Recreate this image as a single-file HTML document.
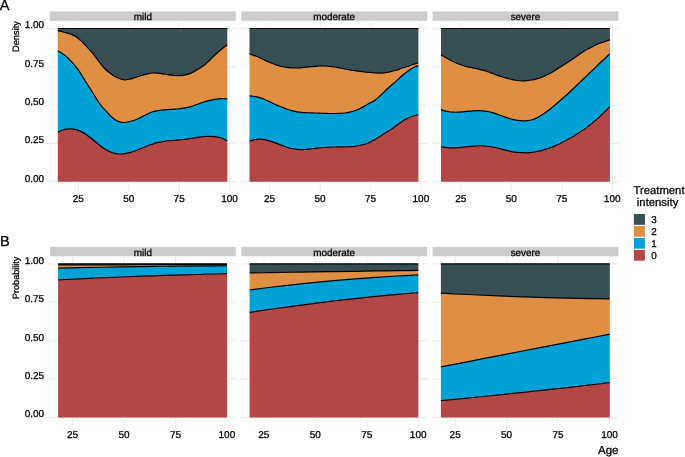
<!DOCTYPE html><html><head><meta charset="utf-8"><style>html,body{margin:0;padding:0;background:#fff;}svg{display:block;will-change:transform;}text{font-family:"Liberation Sans", sans-serif;fill:#000;stroke:#000;stroke-width:0.28px;text-rendering:geometricPrecision;}</style></head><body>
<svg width="685" height="457" viewBox="0 0 685 457">
<rect x="0" y="0" width="685" height="457" fill="#fff"/>
<rect x="50" y="11.4" width="185.8" height="9.35" fill="#CCCCCC"/>
<text x="142.9" y="20.25" font-size="9.9" text-anchor="middle">mild</text>
<line x1="47" y1="181.7" x2="235.8" y2="181.7" stroke="#EBEBEB" stroke-width="1"/>
<line x1="47" y1="143.4" x2="235.8" y2="143.4" stroke="#EBEBEB" stroke-width="1"/>
<line x1="47" y1="105.1" x2="235.8" y2="105.1" stroke="#EBEBEB" stroke-width="1"/>
<line x1="47" y1="66.8" x2="235.8" y2="66.8" stroke="#EBEBEB" stroke-width="1"/>
<line x1="47" y1="28.5" x2="235.8" y2="28.5" stroke="#EBEBEB" stroke-width="1"/>
<line x1="78.45" y1="20.75" x2="78.45" y2="192.3" stroke="#EBEBEB" stroke-width="1"/>
<text x="78.25" y="201.7" font-size="10" text-anchor="middle">25</text>
<line x1="128.9" y1="20.75" x2="128.9" y2="192.3" stroke="#EBEBEB" stroke-width="1"/>
<text x="128.7" y="201.7" font-size="10" text-anchor="middle">50</text>
<line x1="179.35" y1="20.75" x2="179.35" y2="192.3" stroke="#EBEBEB" stroke-width="1"/>
<text x="179.15" y="201.7" font-size="10" text-anchor="middle">75</text>
<line x1="229.8" y1="20.75" x2="229.8" y2="192.3" stroke="#EBEBEB" stroke-width="1"/>
<text x="229.6" y="201.7" font-size="10" text-anchor="middle">100</text>
<rect x="241.3" y="11.4" width="185.8" height="9.35" fill="#CCCCCC"/>
<text x="334.2" y="20.25" font-size="9.9" text-anchor="middle">moderate</text>
<line x1="241.3" y1="181.7" x2="427.1" y2="181.7" stroke="#EBEBEB" stroke-width="1"/>
<line x1="241.3" y1="143.4" x2="427.1" y2="143.4" stroke="#EBEBEB" stroke-width="1"/>
<line x1="241.3" y1="105.1" x2="427.1" y2="105.1" stroke="#EBEBEB" stroke-width="1"/>
<line x1="241.3" y1="66.8" x2="427.1" y2="66.8" stroke="#EBEBEB" stroke-width="1"/>
<line x1="241.3" y1="28.5" x2="427.1" y2="28.5" stroke="#EBEBEB" stroke-width="1"/>
<line x1="269.75" y1="20.75" x2="269.75" y2="192.3" stroke="#EBEBEB" stroke-width="1"/>
<text x="269.55" y="201.7" font-size="10" text-anchor="middle">25</text>
<line x1="320.2" y1="20.75" x2="320.2" y2="192.3" stroke="#EBEBEB" stroke-width="1"/>
<text x="320" y="201.7" font-size="10" text-anchor="middle">50</text>
<line x1="370.65" y1="20.75" x2="370.65" y2="192.3" stroke="#EBEBEB" stroke-width="1"/>
<text x="370.45" y="201.7" font-size="10" text-anchor="middle">75</text>
<line x1="421.1" y1="20.75" x2="421.1" y2="192.3" stroke="#EBEBEB" stroke-width="1"/>
<text x="420.9" y="201.7" font-size="10" text-anchor="middle">100</text>
<rect x="432.6" y="11.4" width="185.8" height="9.35" fill="#CCCCCC"/>
<text x="525.5" y="20.25" font-size="9.9" text-anchor="middle">severe</text>
<line x1="432.6" y1="181.7" x2="618.4" y2="181.7" stroke="#EBEBEB" stroke-width="1"/>
<line x1="432.6" y1="143.4" x2="618.4" y2="143.4" stroke="#EBEBEB" stroke-width="1"/>
<line x1="432.6" y1="105.1" x2="618.4" y2="105.1" stroke="#EBEBEB" stroke-width="1"/>
<line x1="432.6" y1="66.8" x2="618.4" y2="66.8" stroke="#EBEBEB" stroke-width="1"/>
<line x1="432.6" y1="28.5" x2="618.4" y2="28.5" stroke="#EBEBEB" stroke-width="1"/>
<line x1="461.05" y1="20.75" x2="461.05" y2="192.3" stroke="#EBEBEB" stroke-width="1"/>
<text x="460.85" y="201.7" font-size="10" text-anchor="middle">25</text>
<line x1="511.5" y1="20.75" x2="511.5" y2="192.3" stroke="#EBEBEB" stroke-width="1"/>
<text x="511.3" y="201.7" font-size="10" text-anchor="middle">50</text>
<line x1="561.95" y1="20.75" x2="561.95" y2="192.3" stroke="#EBEBEB" stroke-width="1"/>
<text x="561.75" y="201.7" font-size="10" text-anchor="middle">75</text>
<line x1="612.4" y1="20.75" x2="612.4" y2="192.3" stroke="#EBEBEB" stroke-width="1"/>
<text x="612.2" y="201.7" font-size="10" text-anchor="middle">100</text>
<text x="44.1" y="181.6" font-size="10" text-anchor="end">0.00</text>
<text x="44.1" y="143.3" font-size="10" text-anchor="end">0.25</text>
<text x="44.1" y="105" font-size="10" text-anchor="end">0.50</text>
<text x="44.1" y="66.7" font-size="10" text-anchor="end">0.75</text>
<text x="44.1" y="28.4" font-size="10" text-anchor="end">1.00</text>
<rect x="50" y="246.9" width="185.8" height="9.4" fill="#CCCCCC"/>
<text x="142.9" y="255.8" font-size="9.9" text-anchor="middle">mild</text>
<line x1="47" y1="417.4" x2="235.8" y2="417.4" stroke="#EBEBEB" stroke-width="1"/>
<line x1="47" y1="379.02" x2="235.8" y2="379.02" stroke="#EBEBEB" stroke-width="1"/>
<line x1="47" y1="340.65" x2="235.8" y2="340.65" stroke="#EBEBEB" stroke-width="1"/>
<line x1="47" y1="302.27" x2="235.8" y2="302.27" stroke="#EBEBEB" stroke-width="1"/>
<line x1="47" y1="263.9" x2="235.8" y2="263.9" stroke="#EBEBEB" stroke-width="1"/>
<line x1="72.75" y1="256.3" x2="72.75" y2="428" stroke="#EBEBEB" stroke-width="1"/>
<text x="72.55" y="438" font-size="10" text-anchor="middle">25</text>
<line x1="124.2" y1="256.3" x2="124.2" y2="428" stroke="#EBEBEB" stroke-width="1"/>
<text x="124" y="438" font-size="10" text-anchor="middle">50</text>
<line x1="175.65" y1="256.3" x2="175.65" y2="428" stroke="#EBEBEB" stroke-width="1"/>
<text x="175.45" y="438" font-size="10" text-anchor="middle">75</text>
<line x1="227.1" y1="256.3" x2="227.1" y2="428" stroke="#EBEBEB" stroke-width="1"/>
<text x="226.9" y="438" font-size="10" text-anchor="middle">100</text>
<rect x="241.3" y="246.9" width="185.8" height="9.4" fill="#CCCCCC"/>
<text x="334.2" y="255.8" font-size="9.9" text-anchor="middle">moderate</text>
<line x1="241.3" y1="417.4" x2="427.1" y2="417.4" stroke="#EBEBEB" stroke-width="1"/>
<line x1="241.3" y1="379.02" x2="427.1" y2="379.02" stroke="#EBEBEB" stroke-width="1"/>
<line x1="241.3" y1="340.65" x2="427.1" y2="340.65" stroke="#EBEBEB" stroke-width="1"/>
<line x1="241.3" y1="302.27" x2="427.1" y2="302.27" stroke="#EBEBEB" stroke-width="1"/>
<line x1="241.3" y1="263.9" x2="427.1" y2="263.9" stroke="#EBEBEB" stroke-width="1"/>
<line x1="264.05" y1="256.3" x2="264.05" y2="428" stroke="#EBEBEB" stroke-width="1"/>
<text x="263.85" y="438" font-size="10" text-anchor="middle">25</text>
<line x1="315.5" y1="256.3" x2="315.5" y2="428" stroke="#EBEBEB" stroke-width="1"/>
<text x="315.3" y="438" font-size="10" text-anchor="middle">50</text>
<line x1="366.95" y1="256.3" x2="366.95" y2="428" stroke="#EBEBEB" stroke-width="1"/>
<text x="366.75" y="438" font-size="10" text-anchor="middle">75</text>
<line x1="418.4" y1="256.3" x2="418.4" y2="428" stroke="#EBEBEB" stroke-width="1"/>
<text x="418.2" y="438" font-size="10" text-anchor="middle">100</text>
<rect x="432.6" y="246.9" width="185.8" height="9.4" fill="#CCCCCC"/>
<text x="525.5" y="255.8" font-size="9.9" text-anchor="middle">severe</text>
<line x1="432.6" y1="417.4" x2="618.4" y2="417.4" stroke="#EBEBEB" stroke-width="1"/>
<line x1="432.6" y1="379.02" x2="618.4" y2="379.02" stroke="#EBEBEB" stroke-width="1"/>
<line x1="432.6" y1="340.65" x2="618.4" y2="340.65" stroke="#EBEBEB" stroke-width="1"/>
<line x1="432.6" y1="302.27" x2="618.4" y2="302.27" stroke="#EBEBEB" stroke-width="1"/>
<line x1="432.6" y1="263.9" x2="618.4" y2="263.9" stroke="#EBEBEB" stroke-width="1"/>
<line x1="455.35" y1="256.3" x2="455.35" y2="428" stroke="#EBEBEB" stroke-width="1"/>
<text x="455.15" y="438" font-size="10" text-anchor="middle">25</text>
<line x1="506.8" y1="256.3" x2="506.8" y2="428" stroke="#EBEBEB" stroke-width="1"/>
<text x="506.6" y="438" font-size="10" text-anchor="middle">50</text>
<line x1="558.25" y1="256.3" x2="558.25" y2="428" stroke="#EBEBEB" stroke-width="1"/>
<text x="558.05" y="438" font-size="10" text-anchor="middle">75</text>
<line x1="609.7" y1="256.3" x2="609.7" y2="428" stroke="#EBEBEB" stroke-width="1"/>
<text x="609.5" y="438" font-size="10" text-anchor="middle">100</text>
<text x="44.1" y="417.3" font-size="10" text-anchor="end">0.00</text>
<text x="44.1" y="378.92" font-size="10" text-anchor="end">0.25</text>
<text x="44.1" y="340.55" font-size="10" text-anchor="end">0.50</text>
<text x="44.1" y="302.17" font-size="10" text-anchor="end">0.75</text>
<text x="44.1" y="263.8" font-size="10" text-anchor="end">1.00</text>
<path d="M57.8,132.1 C58.33,131.87 59.65,131.18 61,130.7 C62.35,130.22 64.25,129.5 65.9,129.2 C67.55,128.9 69.23,128.82 70.9,128.9 C72.57,128.98 74.25,129.28 75.9,129.7 C77.55,130.12 79.15,130.65 80.8,131.4 C82.45,132.15 84.13,133.1 85.8,134.2 C87.47,135.3 89.15,136.7 90.8,138 C92.45,139.3 94.12,140.7 95.7,142 C97.28,143.3 98.75,144.62 100.3,145.8 C101.85,146.98 103.4,148.12 105,149.1 C106.6,150.08 108.25,150.98 109.9,151.7 C111.55,152.42 113.23,153.02 114.9,153.4 C116.57,153.78 118.25,153.95 119.9,154 C121.55,154.05 123.15,153.92 124.8,153.7 C126.45,153.48 128.13,153.15 129.8,152.7 C131.47,152.25 133.15,151.62 134.8,151 C136.45,150.38 138.05,149.67 139.7,149 C141.35,148.33 143.03,147.67 144.7,147 C146.37,146.33 148.05,145.62 149.7,145 C151.35,144.38 152.95,143.78 154.6,143.3 C156.25,142.82 157.95,142.43 159.6,142.1 C161.25,141.77 162.77,141.53 164.5,141.3 C166.23,141.07 168.25,140.87 170,140.7 C171.75,140.53 173.35,140.45 175,140.3 C176.65,140.15 178.25,139.97 179.9,139.8 C181.55,139.63 183.23,139.5 184.9,139.3 C186.57,139.1 188.25,138.85 189.9,138.6 C191.55,138.35 193.15,138.05 194.8,137.8 C196.45,137.55 198.13,137.32 199.8,137.1 C201.47,136.88 203.15,136.63 204.8,136.5 C206.45,136.37 208.05,136.28 209.7,136.3 C211.35,136.32 213.03,136.4 214.7,136.6 C216.37,136.8 218.05,137.02 219.7,137.5 C221.35,137.98 223.33,138.95 224.6,139.5 C225.87,140.05 226.85,140.58 227.3,140.8 L227.3,181.7 C199.05,181.7 86.05,181.7 57.8,181.7 Z" fill="#B24745"/>
<path d="M57.8,50.7 C58.17,50.92 59.18,51.5 60,52 C60.82,52.5 61.78,53.05 62.7,53.7 C63.62,54.35 64.58,55.13 65.5,55.9 C66.42,56.67 67.3,57.43 68.2,58.3 C69.1,59.17 69.98,60.13 70.9,61.1 C71.82,62.07 72.78,63.05 73.7,64.1 C74.62,65.15 75.48,66.22 76.4,67.4 C77.32,68.58 78.33,69.93 79.2,71.2 C80.07,72.47 80.67,73.5 81.6,75 C82.53,76.5 83.73,78.48 84.8,80.2 C85.87,81.92 86.95,83.63 88,85.3 C89.05,86.97 90.07,88.55 91.1,90.2 C92.13,91.85 93.13,93.52 94.2,95.2 C95.27,96.88 96.42,98.65 97.5,100.3 C98.58,101.95 99.75,103.82 100.7,105.1 C101.65,106.38 102.37,107.07 103.2,108 C104.03,108.93 104.47,109.37 105.7,110.7 C106.93,112.03 108.95,114.45 110.6,116 C112.25,117.55 113.95,118.97 115.6,120 C117.25,121.03 119.07,121.78 120.5,122.2 C121.93,122.62 122.97,122.53 124.2,122.5 C125.43,122.47 126.45,122.28 127.9,122 C129.35,121.72 131.23,121.33 132.9,120.8 C134.57,120.27 136.25,119.55 137.9,118.8 C139.55,118.05 141.15,117.13 142.8,116.3 C144.45,115.47 146.13,114.55 147.8,113.8 C149.47,113.05 151.15,112.33 152.8,111.8 C154.45,111.27 156.05,110.9 157.7,110.6 C159.35,110.3 161.03,110.17 162.7,110 C164.37,109.83 166.05,109.72 167.7,109.6 C169.35,109.48 170.95,109.4 172.6,109.3 C174.25,109.2 175.95,109.15 177.6,109 C179.25,108.85 181.02,108.62 182.5,108.4 C183.98,108.18 185.27,107.97 186.5,107.7 C187.73,107.43 188.52,107.2 189.9,106.8 C191.28,106.4 193.15,105.85 194.8,105.3 C196.45,104.75 198.13,104.08 199.8,103.5 C201.47,102.92 203.15,102.33 204.8,101.8 C206.45,101.27 208.05,100.7 209.7,100.3 C211.35,99.9 213.03,99.67 214.7,99.4 C216.37,99.13 218.05,98.83 219.7,98.7 C221.35,98.57 223.33,98.57 224.6,98.6 C225.87,98.63 226.85,98.85 227.3,98.9 L227.3,140.8 C226.85,140.58 225.87,140.05 224.6,139.5 C223.33,138.95 221.35,137.98 219.7,137.5 C218.05,137.02 216.37,136.8 214.7,136.6 C213.03,136.4 211.35,136.32 209.7,136.3 C208.05,136.28 206.45,136.37 204.8,136.5 C203.15,136.63 201.47,136.88 199.8,137.1 C198.13,137.32 196.45,137.55 194.8,137.8 C193.15,138.05 191.55,138.35 189.9,138.6 C188.25,138.85 186.57,139.1 184.9,139.3 C183.23,139.5 181.55,139.63 179.9,139.8 C178.25,139.97 176.65,140.15 175,140.3 C173.35,140.45 171.75,140.53 170,140.7 C168.25,140.87 166.23,141.07 164.5,141.3 C162.77,141.53 161.25,141.77 159.6,142.1 C157.95,142.43 156.25,142.82 154.6,143.3 C152.95,143.78 151.35,144.38 149.7,145 C148.05,145.62 146.37,146.33 144.7,147 C143.03,147.67 141.35,148.33 139.7,149 C138.05,149.67 136.45,150.38 134.8,151 C133.15,151.62 131.47,152.25 129.8,152.7 C128.13,153.15 126.45,153.48 124.8,153.7 C123.15,153.92 121.55,154.05 119.9,154 C118.25,153.95 116.57,153.78 114.9,153.4 C113.23,153.02 111.55,152.42 109.9,151.7 C108.25,150.98 106.6,150.08 105,149.1 C103.4,148.12 101.85,146.98 100.3,145.8 C98.75,144.62 97.28,143.3 95.7,142 C94.12,140.7 92.45,139.3 90.8,138 C89.15,136.7 87.47,135.3 85.8,134.2 C84.13,133.1 82.45,132.15 80.8,131.4 C79.15,130.65 77.55,130.12 75.9,129.7 C74.25,129.28 72.57,128.98 70.9,128.9 C69.23,128.82 67.55,128.9 65.9,129.2 C64.25,129.5 62.35,130.22 61,130.7 C59.65,131.18 58.33,131.87 57.8,132.1 Z" fill="#00A1D5"/>
<path d="M57.8,30.65 C58.43,30.79 60.42,31.19 61.6,31.5 C62.78,31.81 63.82,32.18 64.9,32.5 C65.98,32.82 67.02,33.08 68.1,33.4 C69.18,33.72 70.28,33.95 71.4,34.4 C72.52,34.85 73.75,35.48 74.8,36.1 C75.85,36.72 76.75,37.38 77.7,38.1 C78.65,38.82 79.55,39.55 80.5,40.4 C81.45,41.25 82.45,42.25 83.4,43.2 C84.35,44.15 85.25,45.1 86.2,46.1 C87.15,47.1 88.15,48.17 89.1,49.2 C90.05,50.23 90.95,51.17 91.9,52.3 C92.85,53.43 93.98,54.93 94.8,56 C95.62,57.07 95.98,57.6 96.8,58.7 C97.62,59.8 98.75,61.37 99.7,62.6 C100.65,63.83 101.55,65 102.5,66.1 C103.45,67.2 104.45,68.27 105.4,69.2 C106.35,70.13 107.25,70.9 108.2,71.7 C109.15,72.5 110.15,73.28 111.1,74 C112.05,74.72 112.95,75.43 113.9,76 C114.85,76.57 115.7,76.9 116.8,77.4 C117.9,77.9 119.22,78.6 120.5,79 C121.78,79.4 123.27,79.72 124.5,79.8 C125.73,79.88 126.5,79.75 127.9,79.5 C129.3,79.25 131.23,78.75 132.9,78.3 C134.57,77.85 136.25,77.33 137.9,76.8 C139.55,76.27 141.15,75.6 142.8,75.1 C144.45,74.6 146.13,74.15 147.8,73.8 C149.47,73.45 151.15,73.12 152.8,73 C154.45,72.88 156.05,72.97 157.7,73.1 C159.35,73.23 161.03,73.53 162.7,73.8 C164.37,74.07 166.05,74.43 167.7,74.7 C169.35,74.97 170.95,75.23 172.6,75.4 C174.25,75.57 175.95,75.7 177.6,75.7 C179.25,75.7 181.02,75.57 182.5,75.4 C183.98,75.23 185.27,75 186.5,74.7 C187.73,74.4 188.52,74.2 189.9,73.6 C191.28,73 193.15,72 194.8,71.1 C196.45,70.2 198.13,69.27 199.8,68.2 C201.47,67.13 203.15,66.03 204.8,64.7 C206.45,63.37 208.05,61.77 209.7,60.2 C211.35,58.63 213.03,56.87 214.7,55.3 C216.37,53.73 218.05,52.22 219.7,50.8 C221.35,49.38 223.33,47.8 224.6,46.8 C225.87,45.8 226.85,45.13 227.3,44.8 L227.3,98.9 C226.85,98.85 225.87,98.63 224.6,98.6 C223.33,98.57 221.35,98.57 219.7,98.7 C218.05,98.83 216.37,99.13 214.7,99.4 C213.03,99.67 211.35,99.9 209.7,100.3 C208.05,100.7 206.45,101.27 204.8,101.8 C203.15,102.33 201.47,102.92 199.8,103.5 C198.13,104.08 196.45,104.75 194.8,105.3 C193.15,105.85 191.28,106.4 189.9,106.8 C188.52,107.2 187.73,107.43 186.5,107.7 C185.27,107.97 183.98,108.18 182.5,108.4 C181.02,108.62 179.25,108.85 177.6,109 C175.95,109.15 174.25,109.2 172.6,109.3 C170.95,109.4 169.35,109.48 167.7,109.6 C166.05,109.72 164.37,109.83 162.7,110 C161.03,110.17 159.35,110.3 157.7,110.6 C156.05,110.9 154.45,111.27 152.8,111.8 C151.15,112.33 149.47,113.05 147.8,113.8 C146.13,114.55 144.45,115.47 142.8,116.3 C141.15,117.13 139.55,118.05 137.9,118.8 C136.25,119.55 134.57,120.27 132.9,120.8 C131.23,121.33 129.35,121.72 127.9,122 C126.45,122.28 125.43,122.47 124.2,122.5 C122.97,122.53 121.93,122.62 120.5,122.2 C119.07,121.78 117.25,121.03 115.6,120 C113.95,118.97 112.25,117.55 110.6,116 C108.95,114.45 106.93,112.03 105.7,110.7 C104.47,109.37 104.03,108.93 103.2,108 C102.37,107.07 101.65,106.38 100.7,105.1 C99.75,103.82 98.58,101.95 97.5,100.3 C96.42,98.65 95.27,96.88 94.2,95.2 C93.13,93.52 92.13,91.85 91.1,90.2 C90.07,88.55 89.05,86.97 88,85.3 C86.95,83.63 85.87,81.92 84.8,80.2 C83.73,78.48 82.53,76.5 81.6,75 C80.67,73.5 80.07,72.47 79.2,71.2 C78.33,69.93 77.32,68.58 76.4,67.4 C75.48,66.22 74.62,65.15 73.7,64.1 C72.78,63.05 71.82,62.07 70.9,61.1 C69.98,60.13 69.1,59.17 68.2,58.3 C67.3,57.43 66.42,56.67 65.5,55.9 C64.58,55.13 63.62,54.35 62.7,53.7 C61.78,53.05 60.82,52.5 60,52 C59.18,51.5 58.17,50.92 57.8,50.7 Z" fill="#DF8F44"/>
<path d="M57.8,28.5 C86.05,28.5 199.05,28.5 227.3,28.5 L227.3,44.8 C226.85,45.13 225.87,45.8 224.6,46.8 C223.33,47.8 221.35,49.38 219.7,50.8 C218.05,52.22 216.37,53.73 214.7,55.3 C213.03,56.87 211.35,58.63 209.7,60.2 C208.05,61.77 206.45,63.37 204.8,64.7 C203.15,66.03 201.47,67.13 199.8,68.2 C198.13,69.27 196.45,70.2 194.8,71.1 C193.15,72 191.28,73 189.9,73.6 C188.52,74.2 187.73,74.4 186.5,74.7 C185.27,75 183.98,75.23 182.5,75.4 C181.02,75.57 179.25,75.7 177.6,75.7 C175.95,75.7 174.25,75.57 172.6,75.4 C170.95,75.23 169.35,74.97 167.7,74.7 C166.05,74.43 164.37,74.07 162.7,73.8 C161.03,73.53 159.35,73.23 157.7,73.1 C156.05,72.97 154.45,72.88 152.8,73 C151.15,73.12 149.47,73.45 147.8,73.8 C146.13,74.15 144.45,74.6 142.8,75.1 C141.15,75.6 139.55,76.27 137.9,76.8 C136.25,77.33 134.57,77.85 132.9,78.3 C131.23,78.75 129.3,79.25 127.9,79.5 C126.5,79.75 125.73,79.88 124.5,79.8 C123.27,79.72 121.78,79.4 120.5,79 C119.22,78.6 117.9,77.9 116.8,77.4 C115.7,76.9 114.85,76.57 113.9,76 C112.95,75.43 112.05,74.72 111.1,74 C110.15,73.28 109.15,72.5 108.2,71.7 C107.25,70.9 106.35,70.13 105.4,69.2 C104.45,68.27 103.45,67.2 102.5,66.1 C101.55,65 100.65,63.83 99.7,62.6 C98.75,61.37 97.62,59.8 96.8,58.7 C95.98,57.6 95.62,57.07 94.8,56 C93.98,54.93 92.85,53.43 91.9,52.3 C90.95,51.17 90.05,50.23 89.1,49.2 C88.15,48.17 87.15,47.1 86.2,46.1 C85.25,45.1 84.35,44.15 83.4,43.2 C82.45,42.25 81.45,41.25 80.5,40.4 C79.55,39.55 78.65,38.82 77.7,38.1 C76.75,37.38 75.85,36.72 74.8,36.1 C73.75,35.48 72.52,34.85 71.4,34.4 C70.28,33.95 69.18,33.72 68.1,33.4 C67.02,33.08 65.98,32.82 64.9,32.5 C63.82,32.18 62.78,31.81 61.6,31.5 C60.42,31.19 58.43,30.79 57.8,30.65 Z" fill="#374E55"/>
<path d="M57.8,132.1 C58.33,131.87 59.65,131.18 61,130.7 C62.35,130.22 64.25,129.5 65.9,129.2 C67.55,128.9 69.23,128.82 70.9,128.9 C72.57,128.98 74.25,129.28 75.9,129.7 C77.55,130.12 79.15,130.65 80.8,131.4 C82.45,132.15 84.13,133.1 85.8,134.2 C87.47,135.3 89.15,136.7 90.8,138 C92.45,139.3 94.12,140.7 95.7,142 C97.28,143.3 98.75,144.62 100.3,145.8 C101.85,146.98 103.4,148.12 105,149.1 C106.6,150.08 108.25,150.98 109.9,151.7 C111.55,152.42 113.23,153.02 114.9,153.4 C116.57,153.78 118.25,153.95 119.9,154 C121.55,154.05 123.15,153.92 124.8,153.7 C126.45,153.48 128.13,153.15 129.8,152.7 C131.47,152.25 133.15,151.62 134.8,151 C136.45,150.38 138.05,149.67 139.7,149 C141.35,148.33 143.03,147.67 144.7,147 C146.37,146.33 148.05,145.62 149.7,145 C151.35,144.38 152.95,143.78 154.6,143.3 C156.25,142.82 157.95,142.43 159.6,142.1 C161.25,141.77 162.77,141.53 164.5,141.3 C166.23,141.07 168.25,140.87 170,140.7 C171.75,140.53 173.35,140.45 175,140.3 C176.65,140.15 178.25,139.97 179.9,139.8 C181.55,139.63 183.23,139.5 184.9,139.3 C186.57,139.1 188.25,138.85 189.9,138.6 C191.55,138.35 193.15,138.05 194.8,137.8 C196.45,137.55 198.13,137.32 199.8,137.1 C201.47,136.88 203.15,136.63 204.8,136.5 C206.45,136.37 208.05,136.28 209.7,136.3 C211.35,136.32 213.03,136.4 214.7,136.6 C216.37,136.8 218.05,137.02 219.7,137.5 C221.35,137.98 223.33,138.95 224.6,139.5 C225.87,140.05 226.85,140.58 227.3,140.8" fill="none" stroke="#000" stroke-width="1.2" stroke-linejoin="round"/>
<path d="M57.8,50.7 C58.17,50.92 59.18,51.5 60,52 C60.82,52.5 61.78,53.05 62.7,53.7 C63.62,54.35 64.58,55.13 65.5,55.9 C66.42,56.67 67.3,57.43 68.2,58.3 C69.1,59.17 69.98,60.13 70.9,61.1 C71.82,62.07 72.78,63.05 73.7,64.1 C74.62,65.15 75.48,66.22 76.4,67.4 C77.32,68.58 78.33,69.93 79.2,71.2 C80.07,72.47 80.67,73.5 81.6,75 C82.53,76.5 83.73,78.48 84.8,80.2 C85.87,81.92 86.95,83.63 88,85.3 C89.05,86.97 90.07,88.55 91.1,90.2 C92.13,91.85 93.13,93.52 94.2,95.2 C95.27,96.88 96.42,98.65 97.5,100.3 C98.58,101.95 99.75,103.82 100.7,105.1 C101.65,106.38 102.37,107.07 103.2,108 C104.03,108.93 104.47,109.37 105.7,110.7 C106.93,112.03 108.95,114.45 110.6,116 C112.25,117.55 113.95,118.97 115.6,120 C117.25,121.03 119.07,121.78 120.5,122.2 C121.93,122.62 122.97,122.53 124.2,122.5 C125.43,122.47 126.45,122.28 127.9,122 C129.35,121.72 131.23,121.33 132.9,120.8 C134.57,120.27 136.25,119.55 137.9,118.8 C139.55,118.05 141.15,117.13 142.8,116.3 C144.45,115.47 146.13,114.55 147.8,113.8 C149.47,113.05 151.15,112.33 152.8,111.8 C154.45,111.27 156.05,110.9 157.7,110.6 C159.35,110.3 161.03,110.17 162.7,110 C164.37,109.83 166.05,109.72 167.7,109.6 C169.35,109.48 170.95,109.4 172.6,109.3 C174.25,109.2 175.95,109.15 177.6,109 C179.25,108.85 181.02,108.62 182.5,108.4 C183.98,108.18 185.27,107.97 186.5,107.7 C187.73,107.43 188.52,107.2 189.9,106.8 C191.28,106.4 193.15,105.85 194.8,105.3 C196.45,104.75 198.13,104.08 199.8,103.5 C201.47,102.92 203.15,102.33 204.8,101.8 C206.45,101.27 208.05,100.7 209.7,100.3 C211.35,99.9 213.03,99.67 214.7,99.4 C216.37,99.13 218.05,98.83 219.7,98.7 C221.35,98.57 223.33,98.57 224.6,98.6 C225.87,98.63 226.85,98.85 227.3,98.9" fill="none" stroke="#000" stroke-width="1.2" stroke-linejoin="round"/>
<path d="M57.8,30.65 C58.43,30.79 60.42,31.19 61.6,31.5 C62.78,31.81 63.82,32.18 64.9,32.5 C65.98,32.82 67.02,33.08 68.1,33.4 C69.18,33.72 70.28,33.95 71.4,34.4 C72.52,34.85 73.75,35.48 74.8,36.1 C75.85,36.72 76.75,37.38 77.7,38.1 C78.65,38.82 79.55,39.55 80.5,40.4 C81.45,41.25 82.45,42.25 83.4,43.2 C84.35,44.15 85.25,45.1 86.2,46.1 C87.15,47.1 88.15,48.17 89.1,49.2 C90.05,50.23 90.95,51.17 91.9,52.3 C92.85,53.43 93.98,54.93 94.8,56 C95.62,57.07 95.98,57.6 96.8,58.7 C97.62,59.8 98.75,61.37 99.7,62.6 C100.65,63.83 101.55,65 102.5,66.1 C103.45,67.2 104.45,68.27 105.4,69.2 C106.35,70.13 107.25,70.9 108.2,71.7 C109.15,72.5 110.15,73.28 111.1,74 C112.05,74.72 112.95,75.43 113.9,76 C114.85,76.57 115.7,76.9 116.8,77.4 C117.9,77.9 119.22,78.6 120.5,79 C121.78,79.4 123.27,79.72 124.5,79.8 C125.73,79.88 126.5,79.75 127.9,79.5 C129.3,79.25 131.23,78.75 132.9,78.3 C134.57,77.85 136.25,77.33 137.9,76.8 C139.55,76.27 141.15,75.6 142.8,75.1 C144.45,74.6 146.13,74.15 147.8,73.8 C149.47,73.45 151.15,73.12 152.8,73 C154.45,72.88 156.05,72.97 157.7,73.1 C159.35,73.23 161.03,73.53 162.7,73.8 C164.37,74.07 166.05,74.43 167.7,74.7 C169.35,74.97 170.95,75.23 172.6,75.4 C174.25,75.57 175.95,75.7 177.6,75.7 C179.25,75.7 181.02,75.57 182.5,75.4 C183.98,75.23 185.27,75 186.5,74.7 C187.73,74.4 188.52,74.2 189.9,73.6 C191.28,73 193.15,72 194.8,71.1 C196.45,70.2 198.13,69.27 199.8,68.2 C201.47,67.13 203.15,66.03 204.8,64.7 C206.45,63.37 208.05,61.77 209.7,60.2 C211.35,58.63 213.03,56.87 214.7,55.3 C216.37,53.73 218.05,52.22 219.7,50.8 C221.35,49.38 223.33,47.8 224.6,46.8 C225.87,45.8 226.85,45.13 227.3,44.8" fill="none" stroke="#000" stroke-width="1.2" stroke-linejoin="round"/>
<path d="M57.8,28.5 C86.05,28.5 199.05,28.5 227.3,28.5" fill="none" stroke="#000" stroke-width="1.2" stroke-linejoin="round"/>
<path d="M249.5,141.3 C249.92,141.13 250.77,140.63 252,140.3 C253.23,139.97 255.25,139.47 256.9,139.3 C258.55,139.13 260.23,139.17 261.9,139.3 C263.57,139.43 265.25,139.72 266.9,140.1 C268.55,140.48 270.15,141.05 271.8,141.6 C273.45,142.15 275.13,142.77 276.8,143.4 C278.47,144.03 280.15,144.77 281.8,145.4 C283.45,146.03 285.05,146.68 286.7,147.2 C288.35,147.72 290.03,148.13 291.7,148.5 C293.37,148.87 295.05,149.22 296.7,149.4 C298.35,149.58 299.95,149.6 301.6,149.6 C303.25,149.6 305.2,149.5 306.6,149.4 C308,149.3 308.6,149.17 310,149 C311.4,148.83 313.35,148.58 315,148.4 C316.65,148.22 318.25,148.05 319.9,147.9 C321.55,147.75 323.23,147.62 324.9,147.5 C326.57,147.38 328.25,147.28 329.9,147.2 C331.55,147.12 333.15,147.05 334.8,147 C336.45,146.95 338.13,146.93 339.8,146.9 C341.47,146.87 343.15,146.83 344.8,146.8 C346.45,146.77 348.05,146.77 349.7,146.7 C351.35,146.63 353.03,146.6 354.7,146.4 C356.37,146.2 358.05,145.85 359.7,145.5 C361.35,145.15 362.95,144.82 364.6,144.3 C366.25,143.78 367.88,143.18 369.6,142.4 C371.32,141.62 373.18,140.6 374.9,139.6 C376.62,138.6 378.25,137.47 379.9,136.4 C381.55,135.33 383.15,134.23 384.8,133.2 C386.45,132.17 388.13,131.28 389.8,130.2 C391.47,129.12 393.15,127.87 394.8,126.7 C396.45,125.53 398.05,124.35 399.7,123.2 C401.35,122.05 403.03,120.78 404.7,119.8 C406.37,118.82 408.05,118.02 409.7,117.3 C411.35,116.58 413.15,115.95 414.6,115.5 C416.05,115.05 417.77,114.75 418.4,114.6 L418.4,181.7 C390.25,181.7 277.65,181.7 249.5,181.7 Z" fill="#B24745"/>
<path d="M249.5,95.8 C249.92,95.85 250.77,95.93 252,96.1 C253.23,96.27 255.25,96.43 256.9,96.8 C258.55,97.17 260.23,97.68 261.9,98.3 C263.57,98.92 265.25,99.75 266.9,100.5 C268.55,101.25 270.15,102.03 271.8,102.8 C273.45,103.57 275.13,104.4 276.8,105.1 C278.47,105.8 280.15,106.35 281.8,107 C283.45,107.65 285.05,108.38 286.7,109 C288.35,109.62 290.03,110.23 291.7,110.7 C293.37,111.17 295.05,111.52 296.7,111.8 C298.35,112.08 299.95,112.25 301.6,112.4 C303.25,112.55 305.2,112.63 306.6,112.7 C308,112.77 308.6,112.75 310,112.8 C311.4,112.85 313.35,112.93 315,113 C316.65,113.07 318.25,113.13 319.9,113.2 C321.55,113.27 323.23,113.35 324.9,113.4 C326.57,113.45 328.25,113.48 329.9,113.5 C331.55,113.52 333.15,113.52 334.8,113.5 C336.45,113.48 338.13,113.48 339.8,113.4 C341.47,113.32 343.15,113.2 344.8,113 C346.45,112.8 348.05,112.57 349.7,112.2 C351.35,111.83 353.03,111.37 354.7,110.8 C356.37,110.23 358.05,109.58 359.7,108.8 C361.35,108.02 362.95,107.05 364.6,106.1 C366.25,105.15 367.8,104.13 369.6,103.1 C371.4,102.07 373.68,101.08 375.4,99.9 C377.12,98.72 378.57,97.22 379.9,96 C381.23,94.78 381.87,94.07 383.4,92.6 C384.93,91.13 387,89.07 389.1,87.2 C391.2,85.33 393.9,83.27 396,81.4 C398.1,79.53 399.8,77.67 401.7,76 C403.6,74.33 405.5,72.78 407.4,71.4 C409.3,70.02 411.27,68.68 413.1,67.7 C414.93,66.72 417.52,65.87 418.4,65.5 L418.4,114.6 C417.77,114.75 416.05,115.05 414.6,115.5 C413.15,115.95 411.35,116.58 409.7,117.3 C408.05,118.02 406.37,118.82 404.7,119.8 C403.03,120.78 401.35,122.05 399.7,123.2 C398.05,124.35 396.45,125.53 394.8,126.7 C393.15,127.87 391.47,129.12 389.8,130.2 C388.13,131.28 386.45,132.17 384.8,133.2 C383.15,134.23 381.55,135.33 379.9,136.4 C378.25,137.47 376.62,138.6 374.9,139.6 C373.18,140.6 371.32,141.62 369.6,142.4 C367.88,143.18 366.25,143.78 364.6,144.3 C362.95,144.82 361.35,145.15 359.7,145.5 C358.05,145.85 356.37,146.2 354.7,146.4 C353.03,146.6 351.35,146.63 349.7,146.7 C348.05,146.77 346.45,146.77 344.8,146.8 C343.15,146.83 341.47,146.87 339.8,146.9 C338.13,146.93 336.45,146.95 334.8,147 C333.15,147.05 331.55,147.12 329.9,147.2 C328.25,147.28 326.57,147.38 324.9,147.5 C323.23,147.62 321.55,147.75 319.9,147.9 C318.25,148.05 316.65,148.22 315,148.4 C313.35,148.58 311.4,148.83 310,149 C308.6,149.17 308,149.3 306.6,149.4 C305.2,149.5 303.25,149.6 301.6,149.6 C299.95,149.6 298.35,149.58 296.7,149.4 C295.05,149.22 293.37,148.87 291.7,148.5 C290.03,148.13 288.35,147.72 286.7,147.2 C285.05,146.68 283.45,146.03 281.8,145.4 C280.15,144.77 278.47,144.03 276.8,143.4 C275.13,142.77 273.45,142.15 271.8,141.6 C270.15,141.05 268.55,140.48 266.9,140.1 C265.25,139.72 263.57,139.43 261.9,139.3 C260.23,139.17 258.55,139.13 256.9,139.3 C255.25,139.47 253.23,139.97 252,140.3 C250.77,140.63 249.92,141.13 249.5,141.3 Z" fill="#00A1D5"/>
<path d="M249.5,53.8 C249.92,53.97 250.77,54.35 252,54.8 C253.23,55.25 255.25,55.83 256.9,56.5 C258.55,57.17 260.23,58.03 261.9,58.8 C263.57,59.57 265.25,60.35 266.9,61.1 C268.55,61.85 270.15,62.63 271.8,63.3 C273.45,63.97 275.13,64.57 276.8,65.1 C278.47,65.63 280.15,66.12 281.8,66.5 C283.45,66.88 285.05,67.18 286.7,67.4 C288.35,67.62 290.03,67.73 291.7,67.8 C293.37,67.87 295.05,67.83 296.7,67.8 C298.35,67.77 299.95,67.7 301.6,67.6 C303.25,67.5 304.95,67.35 306.6,67.2 C308.25,67.05 310.1,66.83 311.5,66.7 C312.9,66.57 313.6,66.52 315,66.4 C316.4,66.28 318.25,66.07 319.9,66 C321.55,65.93 323.23,65.95 324.9,66 C326.57,66.05 328.25,66.13 329.9,66.3 C331.55,66.47 333.15,66.72 334.8,67 C336.45,67.28 338.13,67.67 339.8,68 C341.47,68.33 343.15,68.68 344.8,69 C346.45,69.32 348.05,69.62 349.7,69.9 C351.35,70.18 353.03,70.45 354.7,70.7 C356.37,70.95 358.05,71.18 359.7,71.4 C361.35,71.62 362.95,71.83 364.6,72 C366.25,72.17 367.95,72.27 369.6,72.4 C371.25,72.53 373.15,72.68 374.5,72.8 C375.85,72.92 376.22,73.08 377.7,73.1 C379.18,73.12 381.5,73.07 383.4,72.9 C385.3,72.73 387,72.53 389.1,72.1 C391.2,71.67 393.9,70.93 396,70.3 C398.1,69.67 399.8,68.93 401.7,68.3 C403.6,67.67 405.5,67.13 407.4,66.5 C409.3,65.87 411.27,65.13 413.1,64.5 C414.93,63.87 417.52,63 418.4,62.7 L418.4,65.5 C417.52,65.87 414.93,66.72 413.1,67.7 C411.27,68.68 409.3,70.02 407.4,71.4 C405.5,72.78 403.6,74.33 401.7,76 C399.8,77.67 398.1,79.53 396,81.4 C393.9,83.27 391.2,85.33 389.1,87.2 C387,89.07 384.93,91.13 383.4,92.6 C381.87,94.07 381.23,94.78 379.9,96 C378.57,97.22 377.12,98.72 375.4,99.9 C373.68,101.08 371.4,102.07 369.6,103.1 C367.8,104.13 366.25,105.15 364.6,106.1 C362.95,107.05 361.35,108.02 359.7,108.8 C358.05,109.58 356.37,110.23 354.7,110.8 C353.03,111.37 351.35,111.83 349.7,112.2 C348.05,112.57 346.45,112.8 344.8,113 C343.15,113.2 341.47,113.32 339.8,113.4 C338.13,113.48 336.45,113.48 334.8,113.5 C333.15,113.52 331.55,113.52 329.9,113.5 C328.25,113.48 326.57,113.45 324.9,113.4 C323.23,113.35 321.55,113.27 319.9,113.2 C318.25,113.13 316.65,113.07 315,113 C313.35,112.93 311.4,112.85 310,112.8 C308.6,112.75 308,112.77 306.6,112.7 C305.2,112.63 303.25,112.55 301.6,112.4 C299.95,112.25 298.35,112.08 296.7,111.8 C295.05,111.52 293.37,111.17 291.7,110.7 C290.03,110.23 288.35,109.62 286.7,109 C285.05,108.38 283.45,107.65 281.8,107 C280.15,106.35 278.47,105.8 276.8,105.1 C275.13,104.4 273.45,103.57 271.8,102.8 C270.15,102.03 268.55,101.25 266.9,100.5 C265.25,99.75 263.57,98.92 261.9,98.3 C260.23,97.68 258.55,97.17 256.9,96.8 C255.25,96.43 253.23,96.27 252,96.1 C250.77,95.93 249.92,95.85 249.5,95.8 Z" fill="#DF8F44"/>
<path d="M249.5,28.5 C277.65,28.5 390.25,28.5 418.4,28.5 L418.4,62.7 C417.52,63 414.93,63.87 413.1,64.5 C411.27,65.13 409.3,65.87 407.4,66.5 C405.5,67.13 403.6,67.67 401.7,68.3 C399.8,68.93 398.1,69.67 396,70.3 C393.9,70.93 391.2,71.67 389.1,72.1 C387,72.53 385.3,72.73 383.4,72.9 C381.5,73.07 379.18,73.12 377.7,73.1 C376.22,73.08 375.85,72.92 374.5,72.8 C373.15,72.68 371.25,72.53 369.6,72.4 C367.95,72.27 366.25,72.17 364.6,72 C362.95,71.83 361.35,71.62 359.7,71.4 C358.05,71.18 356.37,70.95 354.7,70.7 C353.03,70.45 351.35,70.18 349.7,69.9 C348.05,69.62 346.45,69.32 344.8,69 C343.15,68.68 341.47,68.33 339.8,68 C338.13,67.67 336.45,67.28 334.8,67 C333.15,66.72 331.55,66.47 329.9,66.3 C328.25,66.13 326.57,66.05 324.9,66 C323.23,65.95 321.55,65.93 319.9,66 C318.25,66.07 316.4,66.28 315,66.4 C313.6,66.52 312.9,66.57 311.5,66.7 C310.1,66.83 308.25,67.05 306.6,67.2 C304.95,67.35 303.25,67.5 301.6,67.6 C299.95,67.7 298.35,67.77 296.7,67.8 C295.05,67.83 293.37,67.87 291.7,67.8 C290.03,67.73 288.35,67.62 286.7,67.4 C285.05,67.18 283.45,66.88 281.8,66.5 C280.15,66.12 278.47,65.63 276.8,65.1 C275.13,64.57 273.45,63.97 271.8,63.3 C270.15,62.63 268.55,61.85 266.9,61.1 C265.25,60.35 263.57,59.57 261.9,58.8 C260.23,58.03 258.55,57.17 256.9,56.5 C255.25,55.83 253.23,55.25 252,54.8 C250.77,54.35 249.92,53.97 249.5,53.8 Z" fill="#374E55"/>
<path d="M249.5,141.3 C249.92,141.13 250.77,140.63 252,140.3 C253.23,139.97 255.25,139.47 256.9,139.3 C258.55,139.13 260.23,139.17 261.9,139.3 C263.57,139.43 265.25,139.72 266.9,140.1 C268.55,140.48 270.15,141.05 271.8,141.6 C273.45,142.15 275.13,142.77 276.8,143.4 C278.47,144.03 280.15,144.77 281.8,145.4 C283.45,146.03 285.05,146.68 286.7,147.2 C288.35,147.72 290.03,148.13 291.7,148.5 C293.37,148.87 295.05,149.22 296.7,149.4 C298.35,149.58 299.95,149.6 301.6,149.6 C303.25,149.6 305.2,149.5 306.6,149.4 C308,149.3 308.6,149.17 310,149 C311.4,148.83 313.35,148.58 315,148.4 C316.65,148.22 318.25,148.05 319.9,147.9 C321.55,147.75 323.23,147.62 324.9,147.5 C326.57,147.38 328.25,147.28 329.9,147.2 C331.55,147.12 333.15,147.05 334.8,147 C336.45,146.95 338.13,146.93 339.8,146.9 C341.47,146.87 343.15,146.83 344.8,146.8 C346.45,146.77 348.05,146.77 349.7,146.7 C351.35,146.63 353.03,146.6 354.7,146.4 C356.37,146.2 358.05,145.85 359.7,145.5 C361.35,145.15 362.95,144.82 364.6,144.3 C366.25,143.78 367.88,143.18 369.6,142.4 C371.32,141.62 373.18,140.6 374.9,139.6 C376.62,138.6 378.25,137.47 379.9,136.4 C381.55,135.33 383.15,134.23 384.8,133.2 C386.45,132.17 388.13,131.28 389.8,130.2 C391.47,129.12 393.15,127.87 394.8,126.7 C396.45,125.53 398.05,124.35 399.7,123.2 C401.35,122.05 403.03,120.78 404.7,119.8 C406.37,118.82 408.05,118.02 409.7,117.3 C411.35,116.58 413.15,115.95 414.6,115.5 C416.05,115.05 417.77,114.75 418.4,114.6" fill="none" stroke="#000" stroke-width="1.2" stroke-linejoin="round"/>
<path d="M249.5,95.8 C249.92,95.85 250.77,95.93 252,96.1 C253.23,96.27 255.25,96.43 256.9,96.8 C258.55,97.17 260.23,97.68 261.9,98.3 C263.57,98.92 265.25,99.75 266.9,100.5 C268.55,101.25 270.15,102.03 271.8,102.8 C273.45,103.57 275.13,104.4 276.8,105.1 C278.47,105.8 280.15,106.35 281.8,107 C283.45,107.65 285.05,108.38 286.7,109 C288.35,109.62 290.03,110.23 291.7,110.7 C293.37,111.17 295.05,111.52 296.7,111.8 C298.35,112.08 299.95,112.25 301.6,112.4 C303.25,112.55 305.2,112.63 306.6,112.7 C308,112.77 308.6,112.75 310,112.8 C311.4,112.85 313.35,112.93 315,113 C316.65,113.07 318.25,113.13 319.9,113.2 C321.55,113.27 323.23,113.35 324.9,113.4 C326.57,113.45 328.25,113.48 329.9,113.5 C331.55,113.52 333.15,113.52 334.8,113.5 C336.45,113.48 338.13,113.48 339.8,113.4 C341.47,113.32 343.15,113.2 344.8,113 C346.45,112.8 348.05,112.57 349.7,112.2 C351.35,111.83 353.03,111.37 354.7,110.8 C356.37,110.23 358.05,109.58 359.7,108.8 C361.35,108.02 362.95,107.05 364.6,106.1 C366.25,105.15 367.8,104.13 369.6,103.1 C371.4,102.07 373.68,101.08 375.4,99.9 C377.12,98.72 378.57,97.22 379.9,96 C381.23,94.78 381.87,94.07 383.4,92.6 C384.93,91.13 387,89.07 389.1,87.2 C391.2,85.33 393.9,83.27 396,81.4 C398.1,79.53 399.8,77.67 401.7,76 C403.6,74.33 405.5,72.78 407.4,71.4 C409.3,70.02 411.27,68.68 413.1,67.7 C414.93,66.72 417.52,65.87 418.4,65.5" fill="none" stroke="#000" stroke-width="1.2" stroke-linejoin="round"/>
<path d="M249.5,53.8 C249.92,53.97 250.77,54.35 252,54.8 C253.23,55.25 255.25,55.83 256.9,56.5 C258.55,57.17 260.23,58.03 261.9,58.8 C263.57,59.57 265.25,60.35 266.9,61.1 C268.55,61.85 270.15,62.63 271.8,63.3 C273.45,63.97 275.13,64.57 276.8,65.1 C278.47,65.63 280.15,66.12 281.8,66.5 C283.45,66.88 285.05,67.18 286.7,67.4 C288.35,67.62 290.03,67.73 291.7,67.8 C293.37,67.87 295.05,67.83 296.7,67.8 C298.35,67.77 299.95,67.7 301.6,67.6 C303.25,67.5 304.95,67.35 306.6,67.2 C308.25,67.05 310.1,66.83 311.5,66.7 C312.9,66.57 313.6,66.52 315,66.4 C316.4,66.28 318.25,66.07 319.9,66 C321.55,65.93 323.23,65.95 324.9,66 C326.57,66.05 328.25,66.13 329.9,66.3 C331.55,66.47 333.15,66.72 334.8,67 C336.45,67.28 338.13,67.67 339.8,68 C341.47,68.33 343.15,68.68 344.8,69 C346.45,69.32 348.05,69.62 349.7,69.9 C351.35,70.18 353.03,70.45 354.7,70.7 C356.37,70.95 358.05,71.18 359.7,71.4 C361.35,71.62 362.95,71.83 364.6,72 C366.25,72.17 367.95,72.27 369.6,72.4 C371.25,72.53 373.15,72.68 374.5,72.8 C375.85,72.92 376.22,73.08 377.7,73.1 C379.18,73.12 381.5,73.07 383.4,72.9 C385.3,72.73 387,72.53 389.1,72.1 C391.2,71.67 393.9,70.93 396,70.3 C398.1,69.67 399.8,68.93 401.7,68.3 C403.6,67.67 405.5,67.13 407.4,66.5 C409.3,65.87 411.27,65.13 413.1,64.5 C414.93,63.87 417.52,63 418.4,62.7" fill="none" stroke="#000" stroke-width="1.2" stroke-linejoin="round"/>
<path d="M249.5,28.5 C277.65,28.5 390.25,28.5 418.4,28.5" fill="none" stroke="#000" stroke-width="1.2" stroke-linejoin="round"/>
<path d="M441,146.8 C441.33,146.87 441.85,147.05 443,147.2 C444.15,147.35 446.25,147.58 447.9,147.7 C449.55,147.82 451.23,147.9 452.9,147.9 C454.57,147.9 456.25,147.82 457.9,147.7 C459.55,147.58 461.15,147.38 462.8,147.2 C464.45,147.02 466.13,146.78 467.8,146.6 C469.47,146.42 471.15,146.23 472.8,146.1 C474.45,145.97 476.05,145.85 477.7,145.8 C479.35,145.75 481.03,145.72 482.7,145.8 C484.37,145.88 486.05,146.1 487.7,146.3 C489.35,146.5 490.95,146.72 492.6,147 C494.25,147.28 495.95,147.62 497.6,148 C499.25,148.38 500.85,148.85 502.5,149.3 C504.15,149.75 505.85,150.28 507.5,150.7 C509.15,151.12 510.75,151.52 512.4,151.8 C514.05,152.08 515.75,152.25 517.4,152.4 C519.05,152.55 520.65,152.63 522.3,152.7 C523.95,152.77 525.63,152.85 527.3,152.8 C528.97,152.75 530.63,152.63 532.3,152.4 C533.97,152.17 535.65,151.75 537.3,151.4 C538.95,151.05 540.55,150.73 542.2,150.3 C543.85,149.87 545.53,149.33 547.2,148.8 C548.87,148.27 550.73,147.67 552.2,147.1 C553.67,146.53 554.7,146 556,145.4 C557.3,144.8 558.52,144.23 560,143.5 C561.48,142.77 563.25,141.87 564.9,141 C566.55,140.13 568.23,139.23 569.9,138.3 C571.57,137.37 573.25,136.42 574.9,135.4 C576.55,134.38 578.15,133.28 579.8,132.2 C581.45,131.12 583.13,130.08 584.8,128.9 C586.47,127.72 588.15,126.42 589.8,125.1 C591.45,123.78 593.05,122.42 594.7,121 C596.35,119.58 598.03,118.13 599.7,116.6 C601.37,115.07 603,113.43 604.7,111.8 C606.4,110.17 609.03,107.63 609.9,106.8 L609.9,181.7 C581.75,181.7 469.15,181.7 441,181.7 Z" fill="#B24745"/>
<path d="M441,109.5 C441.33,109.63 441.85,109.97 443,110.3 C444.15,110.63 446.25,111.18 447.9,111.5 C449.55,111.82 451.23,112.08 452.9,112.2 C454.57,112.32 456.25,112.27 457.9,112.2 C459.55,112.13 461.15,111.95 462.8,111.8 C464.45,111.65 466.13,111.47 467.8,111.3 C469.47,111.13 471.15,110.92 472.8,110.8 C474.45,110.68 476.05,110.6 477.7,110.6 C479.35,110.6 481.03,110.65 482.7,110.8 C484.37,110.95 486.05,111.18 487.7,111.5 C489.35,111.82 490.95,112.22 492.6,112.7 C494.25,113.18 495.95,113.83 497.6,114.4 C499.25,114.97 500.85,115.52 502.5,116.1 C504.15,116.68 505.85,117.35 507.5,117.9 C509.15,118.45 510.75,118.98 512.4,119.4 C514.05,119.82 515.75,120.15 517.4,120.4 C519.05,120.65 520.65,120.85 522.3,120.9 C523.95,120.95 525.63,120.9 527.3,120.7 C528.97,120.5 530.63,120.22 532.3,119.7 C533.97,119.18 535.65,118.42 537.3,117.6 C538.95,116.78 540.55,115.85 542.2,114.8 C543.85,113.75 545.53,112.55 547.2,111.3 C548.87,110.05 550.55,108.65 552.2,107.3 C553.85,105.95 555.8,104.3 557.1,103.2 C558.4,102.1 558.7,101.83 560,100.7 C561.3,99.57 563.25,97.85 564.9,96.4 C566.55,94.95 568.23,93.55 569.9,92 C571.57,90.45 573.25,88.7 574.9,87.1 C576.55,85.5 578.15,83.98 579.8,82.4 C581.45,80.82 583.13,79.2 584.8,77.6 C586.47,76 588.15,74.38 589.8,72.8 C591.45,71.22 593.05,69.68 594.7,68.1 C596.35,66.52 598.03,64.87 599.7,63.3 C601.37,61.73 603,60.3 604.7,58.7 C606.4,57.1 609.03,54.53 609.9,53.7 L609.9,106.8 C609.03,107.63 606.4,110.17 604.7,111.8 C603,113.43 601.37,115.07 599.7,116.6 C598.03,118.13 596.35,119.58 594.7,121 C593.05,122.42 591.45,123.78 589.8,125.1 C588.15,126.42 586.47,127.72 584.8,128.9 C583.13,130.08 581.45,131.12 579.8,132.2 C578.15,133.28 576.55,134.38 574.9,135.4 C573.25,136.42 571.57,137.37 569.9,138.3 C568.23,139.23 566.55,140.13 564.9,141 C563.25,141.87 561.48,142.77 560,143.5 C558.52,144.23 557.3,144.8 556,145.4 C554.7,146 553.67,146.53 552.2,147.1 C550.73,147.67 548.87,148.27 547.2,148.8 C545.53,149.33 543.85,149.87 542.2,150.3 C540.55,150.73 538.95,151.05 537.3,151.4 C535.65,151.75 533.97,152.17 532.3,152.4 C530.63,152.63 528.97,152.75 527.3,152.8 C525.63,152.85 523.95,152.77 522.3,152.7 C520.65,152.63 519.05,152.55 517.4,152.4 C515.75,152.25 514.05,152.08 512.4,151.8 C510.75,151.52 509.15,151.12 507.5,150.7 C505.85,150.28 504.15,149.75 502.5,149.3 C500.85,148.85 499.25,148.38 497.6,148 C495.95,147.62 494.25,147.28 492.6,147 C490.95,146.72 489.35,146.5 487.7,146.3 C486.05,146.1 484.37,145.88 482.7,145.8 C481.03,145.72 479.35,145.75 477.7,145.8 C476.05,145.85 474.45,145.97 472.8,146.1 C471.15,146.23 469.47,146.42 467.8,146.6 C466.13,146.78 464.45,147.02 462.8,147.2 C461.15,147.38 459.55,147.58 457.9,147.7 C456.25,147.82 454.57,147.9 452.9,147.9 C451.23,147.9 449.55,147.82 447.9,147.7 C446.25,147.58 444.15,147.35 443,147.2 C441.85,147.05 441.33,146.87 441,146.8 Z" fill="#00A1D5"/>
<path d="M441,54.8 C441.33,55.02 441.85,55.43 443,56.1 C444.15,56.77 446.25,57.9 447.9,58.8 C449.55,59.7 451.23,60.67 452.9,61.5 C454.57,62.33 456.25,63.13 457.9,63.8 C459.55,64.47 461.15,65 462.8,65.5 C464.45,66 466.13,66.42 467.8,66.8 C469.47,67.18 471.15,67.45 472.8,67.8 C474.45,68.15 476.05,68.5 477.7,68.9 C479.35,69.3 481.03,69.73 482.7,70.2 C484.37,70.67 486.05,71.15 487.7,71.7 C489.35,72.25 490.95,72.88 492.6,73.5 C494.25,74.12 495.95,74.82 497.6,75.4 C499.25,75.98 500.85,76.5 502.5,77 C504.15,77.5 505.85,77.95 507.5,78.4 C509.15,78.85 510.75,79.35 512.4,79.7 C514.05,80.05 515.82,80.32 517.4,80.5 C518.98,80.68 520.33,80.78 521.9,80.8 C523.47,80.82 525.15,80.73 526.8,80.6 C528.45,80.47 530.13,80.3 531.8,80 C533.47,79.7 535.15,79.25 536.8,78.8 C538.45,78.35 540.05,77.93 541.7,77.3 C543.35,76.67 545.03,75.82 546.7,75 C548.37,74.18 550.32,73.17 551.7,72.4 C553.08,71.63 553.62,71.27 555,70.4 C556.38,69.53 558.35,68.25 560,67.2 C561.65,66.15 563.25,65.13 564.9,64.1 C566.55,63.07 568.23,62.12 569.9,61 C571.57,59.88 573.25,58.57 574.9,57.4 C576.55,56.23 578.15,55.1 579.8,54 C581.45,52.9 583.13,51.78 584.8,50.8 C586.47,49.82 588.15,48.98 589.8,48.1 C591.45,47.22 593.05,46.3 594.7,45.5 C596.35,44.7 598.03,43.97 599.7,43.3 C601.37,42.63 603,42.08 604.7,41.5 C606.4,40.92 609.03,40.08 609.9,39.8 L609.9,53.7 C609.03,54.53 606.4,57.1 604.7,58.7 C603,60.3 601.37,61.73 599.7,63.3 C598.03,64.87 596.35,66.52 594.7,68.1 C593.05,69.68 591.45,71.22 589.8,72.8 C588.15,74.38 586.47,76 584.8,77.6 C583.13,79.2 581.45,80.82 579.8,82.4 C578.15,83.98 576.55,85.5 574.9,87.1 C573.25,88.7 571.57,90.45 569.9,92 C568.23,93.55 566.55,94.95 564.9,96.4 C563.25,97.85 561.3,99.57 560,100.7 C558.7,101.83 558.4,102.1 557.1,103.2 C555.8,104.3 553.85,105.95 552.2,107.3 C550.55,108.65 548.87,110.05 547.2,111.3 C545.53,112.55 543.85,113.75 542.2,114.8 C540.55,115.85 538.95,116.78 537.3,117.6 C535.65,118.42 533.97,119.18 532.3,119.7 C530.63,120.22 528.97,120.5 527.3,120.7 C525.63,120.9 523.95,120.95 522.3,120.9 C520.65,120.85 519.05,120.65 517.4,120.4 C515.75,120.15 514.05,119.82 512.4,119.4 C510.75,118.98 509.15,118.45 507.5,117.9 C505.85,117.35 504.15,116.68 502.5,116.1 C500.85,115.52 499.25,114.97 497.6,114.4 C495.95,113.83 494.25,113.18 492.6,112.7 C490.95,112.22 489.35,111.82 487.7,111.5 C486.05,111.18 484.37,110.95 482.7,110.8 C481.03,110.65 479.35,110.6 477.7,110.6 C476.05,110.6 474.45,110.68 472.8,110.8 C471.15,110.92 469.47,111.13 467.8,111.3 C466.13,111.47 464.45,111.65 462.8,111.8 C461.15,111.95 459.55,112.13 457.9,112.2 C456.25,112.27 454.57,112.32 452.9,112.2 C451.23,112.08 449.55,111.82 447.9,111.5 C446.25,111.18 444.15,110.63 443,110.3 C441.85,109.97 441.33,109.63 441,109.5 Z" fill="#DF8F44"/>
<path d="M441,28.5 C469.15,28.5 581.75,28.5 609.9,28.5 L609.9,39.8 C609.03,40.08 606.4,40.92 604.7,41.5 C603,42.08 601.37,42.63 599.7,43.3 C598.03,43.97 596.35,44.7 594.7,45.5 C593.05,46.3 591.45,47.22 589.8,48.1 C588.15,48.98 586.47,49.82 584.8,50.8 C583.13,51.78 581.45,52.9 579.8,54 C578.15,55.1 576.55,56.23 574.9,57.4 C573.25,58.57 571.57,59.88 569.9,61 C568.23,62.12 566.55,63.07 564.9,64.1 C563.25,65.13 561.65,66.15 560,67.2 C558.35,68.25 556.38,69.53 555,70.4 C553.62,71.27 553.08,71.63 551.7,72.4 C550.32,73.17 548.37,74.18 546.7,75 C545.03,75.82 543.35,76.67 541.7,77.3 C540.05,77.93 538.45,78.35 536.8,78.8 C535.15,79.25 533.47,79.7 531.8,80 C530.13,80.3 528.45,80.47 526.8,80.6 C525.15,80.73 523.47,80.82 521.9,80.8 C520.33,80.78 518.98,80.68 517.4,80.5 C515.82,80.32 514.05,80.05 512.4,79.7 C510.75,79.35 509.15,78.85 507.5,78.4 C505.85,77.95 504.15,77.5 502.5,77 C500.85,76.5 499.25,75.98 497.6,75.4 C495.95,74.82 494.25,74.12 492.6,73.5 C490.95,72.88 489.35,72.25 487.7,71.7 C486.05,71.15 484.37,70.67 482.7,70.2 C481.03,69.73 479.35,69.3 477.7,68.9 C476.05,68.5 474.45,68.15 472.8,67.8 C471.15,67.45 469.47,67.18 467.8,66.8 C466.13,66.42 464.45,66 462.8,65.5 C461.15,65 459.55,64.47 457.9,63.8 C456.25,63.13 454.57,62.33 452.9,61.5 C451.23,60.67 449.55,59.7 447.9,58.8 C446.25,57.9 444.15,56.77 443,56.1 C441.85,55.43 441.33,55.02 441,54.8 Z" fill="#374E55"/>
<path d="M441,146.8 C441.33,146.87 441.85,147.05 443,147.2 C444.15,147.35 446.25,147.58 447.9,147.7 C449.55,147.82 451.23,147.9 452.9,147.9 C454.57,147.9 456.25,147.82 457.9,147.7 C459.55,147.58 461.15,147.38 462.8,147.2 C464.45,147.02 466.13,146.78 467.8,146.6 C469.47,146.42 471.15,146.23 472.8,146.1 C474.45,145.97 476.05,145.85 477.7,145.8 C479.35,145.75 481.03,145.72 482.7,145.8 C484.37,145.88 486.05,146.1 487.7,146.3 C489.35,146.5 490.95,146.72 492.6,147 C494.25,147.28 495.95,147.62 497.6,148 C499.25,148.38 500.85,148.85 502.5,149.3 C504.15,149.75 505.85,150.28 507.5,150.7 C509.15,151.12 510.75,151.52 512.4,151.8 C514.05,152.08 515.75,152.25 517.4,152.4 C519.05,152.55 520.65,152.63 522.3,152.7 C523.95,152.77 525.63,152.85 527.3,152.8 C528.97,152.75 530.63,152.63 532.3,152.4 C533.97,152.17 535.65,151.75 537.3,151.4 C538.95,151.05 540.55,150.73 542.2,150.3 C543.85,149.87 545.53,149.33 547.2,148.8 C548.87,148.27 550.73,147.67 552.2,147.1 C553.67,146.53 554.7,146 556,145.4 C557.3,144.8 558.52,144.23 560,143.5 C561.48,142.77 563.25,141.87 564.9,141 C566.55,140.13 568.23,139.23 569.9,138.3 C571.57,137.37 573.25,136.42 574.9,135.4 C576.55,134.38 578.15,133.28 579.8,132.2 C581.45,131.12 583.13,130.08 584.8,128.9 C586.47,127.72 588.15,126.42 589.8,125.1 C591.45,123.78 593.05,122.42 594.7,121 C596.35,119.58 598.03,118.13 599.7,116.6 C601.37,115.07 603,113.43 604.7,111.8 C606.4,110.17 609.03,107.63 609.9,106.8" fill="none" stroke="#000" stroke-width="1.2" stroke-linejoin="round"/>
<path d="M441,109.5 C441.33,109.63 441.85,109.97 443,110.3 C444.15,110.63 446.25,111.18 447.9,111.5 C449.55,111.82 451.23,112.08 452.9,112.2 C454.57,112.32 456.25,112.27 457.9,112.2 C459.55,112.13 461.15,111.95 462.8,111.8 C464.45,111.65 466.13,111.47 467.8,111.3 C469.47,111.13 471.15,110.92 472.8,110.8 C474.45,110.68 476.05,110.6 477.7,110.6 C479.35,110.6 481.03,110.65 482.7,110.8 C484.37,110.95 486.05,111.18 487.7,111.5 C489.35,111.82 490.95,112.22 492.6,112.7 C494.25,113.18 495.95,113.83 497.6,114.4 C499.25,114.97 500.85,115.52 502.5,116.1 C504.15,116.68 505.85,117.35 507.5,117.9 C509.15,118.45 510.75,118.98 512.4,119.4 C514.05,119.82 515.75,120.15 517.4,120.4 C519.05,120.65 520.65,120.85 522.3,120.9 C523.95,120.95 525.63,120.9 527.3,120.7 C528.97,120.5 530.63,120.22 532.3,119.7 C533.97,119.18 535.65,118.42 537.3,117.6 C538.95,116.78 540.55,115.85 542.2,114.8 C543.85,113.75 545.53,112.55 547.2,111.3 C548.87,110.05 550.55,108.65 552.2,107.3 C553.85,105.95 555.8,104.3 557.1,103.2 C558.4,102.1 558.7,101.83 560,100.7 C561.3,99.57 563.25,97.85 564.9,96.4 C566.55,94.95 568.23,93.55 569.9,92 C571.57,90.45 573.25,88.7 574.9,87.1 C576.55,85.5 578.15,83.98 579.8,82.4 C581.45,80.82 583.13,79.2 584.8,77.6 C586.47,76 588.15,74.38 589.8,72.8 C591.45,71.22 593.05,69.68 594.7,68.1 C596.35,66.52 598.03,64.87 599.7,63.3 C601.37,61.73 603,60.3 604.7,58.7 C606.4,57.1 609.03,54.53 609.9,53.7" fill="none" stroke="#000" stroke-width="1.2" stroke-linejoin="round"/>
<path d="M441,54.8 C441.33,55.02 441.85,55.43 443,56.1 C444.15,56.77 446.25,57.9 447.9,58.8 C449.55,59.7 451.23,60.67 452.9,61.5 C454.57,62.33 456.25,63.13 457.9,63.8 C459.55,64.47 461.15,65 462.8,65.5 C464.45,66 466.13,66.42 467.8,66.8 C469.47,67.18 471.15,67.45 472.8,67.8 C474.45,68.15 476.05,68.5 477.7,68.9 C479.35,69.3 481.03,69.73 482.7,70.2 C484.37,70.67 486.05,71.15 487.7,71.7 C489.35,72.25 490.95,72.88 492.6,73.5 C494.25,74.12 495.95,74.82 497.6,75.4 C499.25,75.98 500.85,76.5 502.5,77 C504.15,77.5 505.85,77.95 507.5,78.4 C509.15,78.85 510.75,79.35 512.4,79.7 C514.05,80.05 515.82,80.32 517.4,80.5 C518.98,80.68 520.33,80.78 521.9,80.8 C523.47,80.82 525.15,80.73 526.8,80.6 C528.45,80.47 530.13,80.3 531.8,80 C533.47,79.7 535.15,79.25 536.8,78.8 C538.45,78.35 540.05,77.93 541.7,77.3 C543.35,76.67 545.03,75.82 546.7,75 C548.37,74.18 550.32,73.17 551.7,72.4 C553.08,71.63 553.62,71.27 555,70.4 C556.38,69.53 558.35,68.25 560,67.2 C561.65,66.15 563.25,65.13 564.9,64.1 C566.55,63.07 568.23,62.12 569.9,61 C571.57,59.88 573.25,58.57 574.9,57.4 C576.55,56.23 578.15,55.1 579.8,54 C581.45,52.9 583.13,51.78 584.8,50.8 C586.47,49.82 588.15,48.98 589.8,48.1 C591.45,47.22 593.05,46.3 594.7,45.5 C596.35,44.7 598.03,43.97 599.7,43.3 C601.37,42.63 603,42.08 604.7,41.5 C606.4,40.92 609.03,40.08 609.9,39.8" fill="none" stroke="#000" stroke-width="1.2" stroke-linejoin="round"/>
<path d="M441,28.5 C469.15,28.5 581.75,28.5 609.9,28.5" fill="none" stroke="#000" stroke-width="1.2" stroke-linejoin="round"/>
<path d="M58.1,279.9 C61.62,279.73 72.18,279.19 79.21,278.86 C86.25,278.52 93.29,278.2 100.33,277.89 C107.36,277.58 114.4,277.29 121.44,277 C128.47,276.72 135.51,276.45 142.55,276.19 C149.59,275.93 156.62,275.69 163.66,275.45 C170.7,275.22 177.74,275 184.78,274.79 C191.81,274.58 198.85,274.39 205.89,274.21 C212.92,274.03 223.48,273.78 227,273.7 L227,417.4 C198.85,417.4 86.25,417.4 58.1,417.4 Z" fill="#B24745"/>
<path d="M58.1,268.2 C61.62,268.12 72.18,267.86 79.21,267.7 C86.25,267.54 93.29,267.4 100.33,267.26 C107.36,267.12 114.4,266.99 121.44,266.87 C128.47,266.75 135.51,266.64 142.55,266.54 C149.59,266.43 156.62,266.34 163.66,266.26 C170.7,266.17 177.74,266.1 184.78,266.03 C191.81,265.97 198.85,265.91 205.89,265.86 C212.92,265.82 223.48,265.77 227,265.75 L227,273.7 C223.48,273.78 212.92,274.03 205.89,274.21 C198.85,274.39 191.81,274.58 184.78,274.79 C177.74,275 170.7,275.22 163.66,275.45 C156.62,275.69 149.59,275.93 142.55,276.19 C135.51,276.45 128.47,276.72 121.44,277 C114.4,277.29 107.36,277.58 100.33,277.89 C93.29,278.2 86.25,278.52 79.21,278.86 C72.18,279.19 61.62,279.73 58.1,279.9 Z" fill="#00A1D5"/>
<path d="M58.1,264.9 C61.62,264.89 72.18,264.88 79.21,264.87 C86.25,264.86 93.29,264.85 100.33,264.84 C107.36,264.82 114.4,264.81 121.44,264.8 C128.47,264.78 135.51,264.77 142.55,264.76 C149.59,264.74 156.62,264.73 163.66,264.71 C170.7,264.69 177.74,264.68 184.78,264.66 C191.81,264.64 198.85,264.63 205.89,264.61 C212.92,264.59 223.48,264.56 227,264.55 L227,265.75 C223.48,265.77 212.92,265.82 205.89,265.86 C198.85,265.91 191.81,265.97 184.78,266.03 C177.74,266.1 170.7,266.17 163.66,266.26 C156.62,266.34 149.59,266.43 142.55,266.54 C135.51,266.64 128.47,266.75 121.44,266.87 C114.4,266.99 107.36,267.12 100.33,267.26 C93.29,267.4 86.25,267.54 79.21,267.7 C72.18,267.86 61.62,268.12 58.1,268.2 Z" fill="#DF8F44"/>
<path d="M58.1,263.9 C86.25,263.9 198.85,263.9 227,263.9 L227,264.55 C223.48,264.56 212.92,264.59 205.89,264.61 C198.85,264.63 191.81,264.64 184.78,264.66 C177.74,264.68 170.7,264.69 163.66,264.71 C156.62,264.73 149.59,264.74 142.55,264.76 C135.51,264.77 128.47,264.78 121.44,264.8 C114.4,264.81 107.36,264.82 100.33,264.84 C93.29,264.85 86.25,264.86 79.21,264.87 C72.18,264.88 61.62,264.89 58.1,264.9 Z" fill="#374E55"/>
<path d="M58.1,279.9 C61.62,279.73 72.18,279.19 79.21,278.86 C86.25,278.52 93.29,278.2 100.33,277.89 C107.36,277.58 114.4,277.29 121.44,277 C128.47,276.72 135.51,276.45 142.55,276.19 C149.59,275.93 156.62,275.69 163.66,275.45 C170.7,275.22 177.74,275 184.78,274.79 C191.81,274.58 198.85,274.39 205.89,274.21 C212.92,274.03 223.48,273.78 227,273.7" fill="none" stroke="#000" stroke-width="1.2" stroke-linejoin="round"/>
<path d="M58.1,268.2 C61.62,268.12 72.18,267.86 79.21,267.7 C86.25,267.54 93.29,267.4 100.33,267.26 C107.36,267.12 114.4,266.99 121.44,266.87 C128.47,266.75 135.51,266.64 142.55,266.54 C149.59,266.43 156.62,266.34 163.66,266.26 C170.7,266.17 177.74,266.1 184.78,266.03 C191.81,265.97 198.85,265.91 205.89,265.86 C212.92,265.82 223.48,265.77 227,265.75" fill="none" stroke="#000" stroke-width="1.2" stroke-linejoin="round"/>
<path d="M58.1,264.9 C61.62,264.89 72.18,264.88 79.21,264.87 C86.25,264.86 93.29,264.85 100.33,264.84 C107.36,264.82 114.4,264.81 121.44,264.8 C128.47,264.78 135.51,264.77 142.55,264.76 C149.59,264.74 156.62,264.73 163.66,264.71 C170.7,264.69 177.74,264.68 184.78,264.66 C191.81,264.64 198.85,264.63 205.89,264.61 C212.92,264.59 223.48,264.56 227,264.55" fill="none" stroke="#000" stroke-width="1.2" stroke-linejoin="round"/>
<path d="M58.1,263.9 C86.25,263.9 198.85,263.9 227,263.9" fill="none" stroke="#000" stroke-width="1.2" stroke-linejoin="round"/>
<path d="M249.6,312.39 C253.11,311.87 263.66,310.27 270.69,309.25 C277.72,308.24 284.75,307.25 291.77,306.3 C298.8,305.35 305.83,304.43 312.86,303.54 C319.89,302.65 326.92,301.8 333.95,300.97 C340.98,300.15 348.01,299.36 355.04,298.59 C362.07,297.83 369.1,297.1 376.12,296.41 C383.15,295.71 390.18,295.04 397.21,294.41 C404.24,293.77 414.79,292.9 418.3,292.6 L418.3,417.4 C390.18,417.4 277.72,417.4 249.6,417.4 Z" fill="#B24745"/>
<path d="M249.6,289.98 C253.11,289.53 263.66,288.14 270.69,287.27 C277.72,286.41 284.75,285.59 291.77,284.8 C298.8,284.02 305.83,283.27 312.86,282.57 C319.89,281.86 326.92,281.2 333.95,280.57 C340.98,279.95 348.01,279.36 355.04,278.81 C362.07,278.26 369.1,277.76 376.12,277.29 C383.15,276.82 390.18,276.39 397.21,276 C404.24,275.61 414.79,275.13 418.3,274.95 L418.3,292.6 C414.79,292.9 404.24,293.77 397.21,294.41 C390.18,295.04 383.15,295.71 376.12,296.41 C369.1,297.1 362.07,297.83 355.04,298.59 C348.01,299.36 340.98,300.15 333.95,300.97 C326.92,301.8 319.89,302.65 312.86,303.54 C305.83,304.43 298.8,305.35 291.77,306.3 C284.75,307.25 277.72,308.24 270.69,309.25 C263.66,310.27 253.11,311.87 249.6,312.39 Z" fill="#00A1D5"/>
<path d="M249.6,272.95 C253.11,272.9 263.66,272.72 270.69,272.6 C277.72,272.49 284.75,272.37 291.77,272.26 C298.8,272.15 305.83,272.04 312.86,271.93 C319.89,271.81 326.92,271.71 333.95,271.6 C340.98,271.49 348.01,271.38 355.04,271.28 C362.07,271.17 369.1,271.07 376.12,270.96 C383.15,270.86 390.18,270.76 397.21,270.66 C404.24,270.56 414.79,270.41 418.3,270.36 L418.3,274.95 C414.79,275.13 404.24,275.61 397.21,276 C390.18,276.39 383.15,276.82 376.12,277.29 C369.1,277.76 362.07,278.26 355.04,278.81 C348.01,279.36 340.98,279.95 333.95,280.57 C326.92,281.2 319.89,281.86 312.86,282.57 C305.83,283.27 298.8,284.02 291.77,284.8 C284.75,285.59 277.72,286.41 270.69,287.27 C263.66,288.14 253.11,289.53 249.6,289.98 Z" fill="#DF8F44"/>
<path d="M249.6,263.9 C277.72,263.9 390.18,263.9 418.3,263.9 L418.3,270.36 C414.79,270.41 404.24,270.56 397.21,270.66 C390.18,270.76 383.15,270.86 376.12,270.96 C369.1,271.07 362.07,271.17 355.04,271.28 C348.01,271.38 340.98,271.49 333.95,271.6 C326.92,271.71 319.89,271.81 312.86,271.93 C305.83,272.04 298.8,272.15 291.77,272.26 C284.75,272.37 277.72,272.49 270.69,272.6 C263.66,272.72 253.11,272.9 249.6,272.95 Z" fill="#374E55"/>
<path d="M249.6,312.39 C253.11,311.87 263.66,310.27 270.69,309.25 C277.72,308.24 284.75,307.25 291.77,306.3 C298.8,305.35 305.83,304.43 312.86,303.54 C319.89,302.65 326.92,301.8 333.95,300.97 C340.98,300.15 348.01,299.36 355.04,298.59 C362.07,297.83 369.1,297.1 376.12,296.41 C383.15,295.71 390.18,295.04 397.21,294.41 C404.24,293.77 414.79,292.9 418.3,292.6" fill="none" stroke="#000" stroke-width="1.2" stroke-linejoin="round"/>
<path d="M249.6,289.98 C253.11,289.53 263.66,288.14 270.69,287.27 C277.72,286.41 284.75,285.59 291.77,284.8 C298.8,284.02 305.83,283.27 312.86,282.57 C319.89,281.86 326.92,281.2 333.95,280.57 C340.98,279.95 348.01,279.36 355.04,278.81 C362.07,278.26 369.1,277.76 376.12,277.29 C383.15,276.82 390.18,276.39 397.21,276 C404.24,275.61 414.79,275.13 418.3,274.95" fill="none" stroke="#000" stroke-width="1.2" stroke-linejoin="round"/>
<path d="M249.6,272.95 C253.11,272.9 263.66,272.72 270.69,272.6 C277.72,272.49 284.75,272.37 291.77,272.26 C298.8,272.15 305.83,272.04 312.86,271.93 C319.89,271.81 326.92,271.71 333.95,271.6 C340.98,271.49 348.01,271.38 355.04,271.28 C362.07,271.17 369.1,271.07 376.12,270.96 C383.15,270.86 390.18,270.76 397.21,270.66 C404.24,270.56 414.79,270.41 418.3,270.36" fill="none" stroke="#000" stroke-width="1.2" stroke-linejoin="round"/>
<path d="M249.6,263.9 C277.72,263.9 390.18,263.9 418.3,263.9" fill="none" stroke="#000" stroke-width="1.2" stroke-linejoin="round"/>
<path d="M440.9,400.6 C444.42,400.26 454.97,399.26 462.01,398.57 C469.05,397.88 476.09,397.19 483.12,396.48 C490.16,395.77 497.2,395.06 504.24,394.33 C511.27,393.6 518.31,392.87 525.35,392.12 C532.39,391.38 539.42,390.62 546.46,389.85 C553.5,389.09 560.54,388.31 567.57,387.53 C574.61,386.74 581.65,385.95 588.69,385.14 C595.73,384.34 606.28,383.11 609.8,382.7 L609.8,417.4 C581.65,417.4 469.05,417.4 440.9,417.4 Z" fill="#B24745"/>
<path d="M440.9,366.94 C444.42,366.25 454.97,364.19 462.01,362.81 C469.05,361.44 476.09,360.07 483.12,358.7 C490.16,357.33 497.2,355.96 504.24,354.59 C511.27,353.22 518.31,351.86 525.35,350.49 C532.39,349.13 539.42,347.77 546.46,346.4 C553.5,345.04 560.54,343.68 567.57,342.32 C574.61,340.97 581.65,339.61 588.69,338.25 C595.73,336.9 606.28,334.87 609.8,334.19 L609.8,382.7 C606.28,383.11 595.73,384.34 588.69,385.14 C581.65,385.95 574.61,386.74 567.57,387.53 C560.54,388.31 553.5,389.09 546.46,389.85 C539.42,390.62 532.39,391.38 525.35,392.12 C518.31,392.87 511.27,393.6 504.24,394.33 C497.2,395.06 490.16,395.77 483.12,396.48 C476.09,397.19 469.05,397.88 462.01,398.57 C454.97,399.26 444.42,400.26 440.9,400.6 Z" fill="#00A1D5"/>
<path d="M440.9,293.08 C444.42,293.27 454.97,293.87 462.01,294.23 C469.05,294.6 476.09,294.94 483.12,295.27 C490.16,295.59 497.2,295.89 504.24,296.17 C511.27,296.46 518.31,296.72 525.35,296.96 C532.39,297.2 539.42,297.42 546.46,297.62 C553.5,297.82 560.54,298 567.57,298.15 C574.61,298.31 581.65,298.45 588.69,298.56 C595.73,298.68 606.28,298.8 609.8,298.85 L609.8,334.19 C606.28,334.87 595.73,336.9 588.69,338.25 C581.65,339.61 574.61,340.97 567.57,342.32 C560.54,343.68 553.5,345.04 546.46,346.4 C539.42,347.77 532.39,349.13 525.35,350.49 C518.31,351.86 511.27,353.22 504.24,354.59 C497.2,355.96 490.16,357.33 483.12,358.7 C476.09,360.07 469.05,361.44 462.01,362.81 C454.97,364.19 444.42,366.25 440.9,366.94 Z" fill="#DF8F44"/>
<path d="M440.9,263.9 C469.05,263.9 581.65,263.9 609.8,263.9 L609.8,298.85 C606.28,298.8 595.73,298.68 588.69,298.56 C581.65,298.45 574.61,298.31 567.57,298.15 C560.54,298 553.5,297.82 546.46,297.62 C539.42,297.42 532.39,297.2 525.35,296.96 C518.31,296.72 511.27,296.46 504.24,296.17 C497.2,295.89 490.16,295.59 483.12,295.27 C476.09,294.94 469.05,294.6 462.01,294.23 C454.97,293.87 444.42,293.27 440.9,293.08 Z" fill="#374E55"/>
<path d="M440.9,400.6 C444.42,400.26 454.97,399.26 462.01,398.57 C469.05,397.88 476.09,397.19 483.12,396.48 C490.16,395.77 497.2,395.06 504.24,394.33 C511.27,393.6 518.31,392.87 525.35,392.12 C532.39,391.38 539.42,390.62 546.46,389.85 C553.5,389.09 560.54,388.31 567.57,387.53 C574.61,386.74 581.65,385.95 588.69,385.14 C595.73,384.34 606.28,383.11 609.8,382.7" fill="none" stroke="#000" stroke-width="1.2" stroke-linejoin="round"/>
<path d="M440.9,366.94 C444.42,366.25 454.97,364.19 462.01,362.81 C469.05,361.44 476.09,360.07 483.12,358.7 C490.16,357.33 497.2,355.96 504.24,354.59 C511.27,353.22 518.31,351.86 525.35,350.49 C532.39,349.13 539.42,347.77 546.46,346.4 C553.5,345.04 560.54,343.68 567.57,342.32 C574.61,340.97 581.65,339.61 588.69,338.25 C595.73,336.9 606.28,334.87 609.8,334.19" fill="none" stroke="#000" stroke-width="1.2" stroke-linejoin="round"/>
<path d="M440.9,293.08 C444.42,293.27 454.97,293.87 462.01,294.23 C469.05,294.6 476.09,294.94 483.12,295.27 C490.16,295.59 497.2,295.89 504.24,296.17 C511.27,296.46 518.31,296.72 525.35,296.96 C532.39,297.2 539.42,297.42 546.46,297.62 C553.5,297.82 560.54,298 567.57,298.15 C574.61,298.31 581.65,298.45 588.69,298.56 C595.73,298.68 606.28,298.8 609.8,298.85" fill="none" stroke="#000" stroke-width="1.2" stroke-linejoin="round"/>
<path d="M440.9,263.9 C469.05,263.9 581.65,263.9 609.8,263.9" fill="none" stroke="#000" stroke-width="1.2" stroke-linejoin="round"/>
<text x="-0.2" y="9.6" font-size="14.5">A</text>
<text x="-0.1" y="245.6" font-size="14.5">B</text>
<text transform="translate(19.2,21.0) rotate(-90)" font-size="9.3" text-anchor="end">Density</text>
<text transform="translate(18.9,256.6) rotate(-90)" font-size="9.1" text-anchor="end">Probability</text>
<text x="618.5" y="454.2" font-size="11.5" text-anchor="end">Age</text>
<text x="659" y="193.8" font-size="11.3" text-anchor="middle">Treatment</text>
<text x="657.6" y="206.3" font-size="11.3" text-anchor="middle">intensity</text>
<rect x="633.9" y="214" width="11" height="10.8" fill="#374E55"/>
<text x="651.3" y="223.1" font-size="9.9">3</text>
<rect x="633.9" y="225.95" width="11" height="10.8" fill="#DF8F44"/>
<text x="651.3" y="235.05" font-size="9.9">2</text>
<rect x="633.9" y="237.9" width="11" height="10.8" fill="#00A1D5"/>
<text x="651.3" y="247" font-size="9.9">1</text>
<rect x="633.9" y="249.85" width="11" height="10.8" fill="#B24745"/>
<text x="651.3" y="258.95" font-size="9.9">0</text>
</svg></body></html>
